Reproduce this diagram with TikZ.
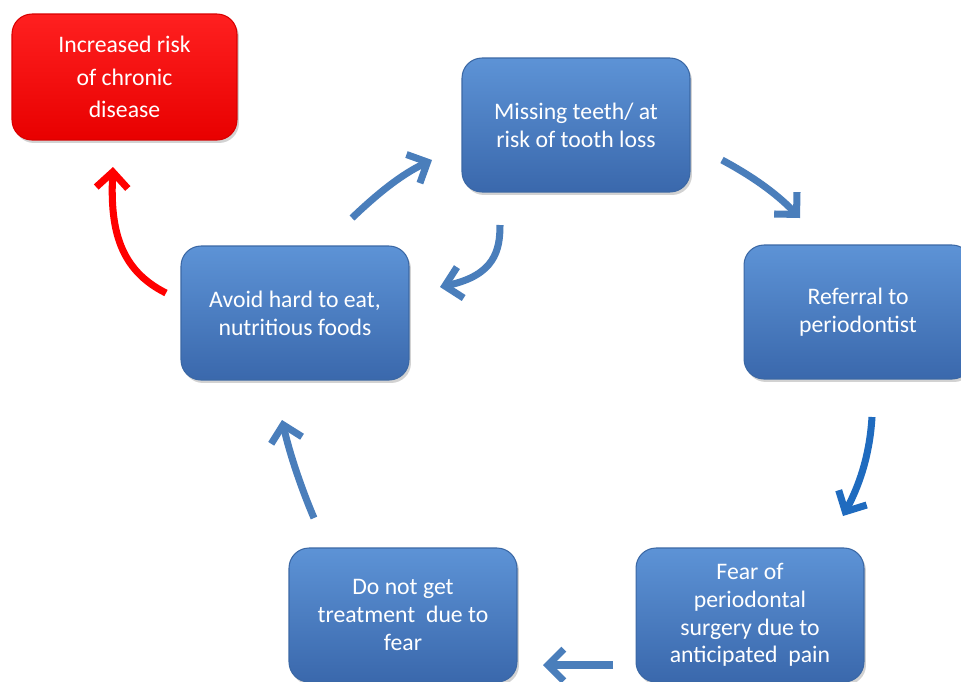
\documentclass[tikz,border=0pt]{standalone}
\usepackage{fontspec}
\setmainfont{Carlito}
\usetikzlibrary{arrows.meta,shadows}
\definecolor{boxtop}{HTML}{5D93D6}
\definecolor{boxbot}{HTML}{3A68AC}
\definecolor{boxedge}{HTML}{3B68A5}
\definecolor{arrowblue}{HTML}{4A7EBB}
\definecolor{arrowdark}{HTML}{1F6BBF}
\definecolor{redtop}{HTML}{FF2020}
\definecolor{redbot}{HTML}{E80000}
\tikzset{
  bluebox/.style={rectangle, rounded corners=0.4cm, minimum width=4.56cm, minimum height=2.68cm,
    top color=boxtop, bottom color=boxbot, draw=boxedge, line width=0.6pt,
    text=white, align=center, inner sep=0pt,
    font=\fontsize{13.5}{15.8}\selectfont,
    drop shadow={shadow xshift=0.04cm, shadow yshift=-0.06cm, opacity=0.35}},
  redbox/.style={bluebox, top color=redtop, bottom color=redbot, draw=red!85!black,
    minimum width=4.5cm, minimum height=2.52cm, font=\fontsize{13.5}{18.5}\selectfont},
  flow/.style={draw=arrowblue, line width=4pt, line cap=butt,
    -{Straight Barb[length=9pt,width=18pt,line width=4pt]}},
  flowdark/.style={flow, draw=arrowdark},
  flowred/.style={flow, draw=red}
}
\begin{document}
\begin{tikzpicture}[x=0.02cm,y=-0.02cm]
\clip (0,0) rectangle (961,681);
\fill[white] (0,0) rectangle (961,681);
\node[redbox] (risk) at (124.5,77) {Increased risk\\of chronic\\disease};
\node[bluebox] (miss) at (576,125) {Missing teeth/ at\\risk of tooth loss};
\node[bluebox] (ref) at (858,312) {Referral to\\periodontist};
\node[bluebox] (avoid) at (295,313) {Avoid hard to eat,\\nutritious foods};
\node[bluebox] (donot) at (403,615) {Do not get\\treatment\ \ due to\\fear};
\node[bluebox] (fear) at (750,615) {Fear of\\periodontal\\surgery due to\\anticipated\ \ pain};

% arrow end points
\coordinate (a1s) at (352,218); \coordinate (a1e) at (432,160);
\coordinate (a2s) at (500,225); \coordinate (a2e) at (440,287);
\coordinate (a3s) at (722,160); \coordinate (a3e) at (800,218);
\coordinate (a4s) at (872,417); \coordinate (a4e) at (843,516);
\coordinate (a5s) at (613,665); \coordinate (a5e) at (543,665);
\coordinate (a6s) at (314,518); \coordinate (a6e) at (282,420);
\coordinate (a7s) at (166,293); \coordinate (a7e) at (113,167);

\draw[flow] (a1s) .. controls (375,196) and (400,175) .. (a1e);
\draw[flow] (a2s) .. controls (500,250) and (495,275) .. (a2e);
\draw[flow] (a3s) .. controls (750,175) and (775,192) .. (a3e);
\draw[flowdark] (a4s) .. controls (870,450) and (862,480) .. (a4e);
\draw[flow] (a5s) -- (a5e);
\draw[flow] (a6s) .. controls (302,490) and (290,455) .. (a6e);
\draw[flowred] (a7s) .. controls (120,270) and (110,230) .. (a7e);
\end{tikzpicture}
\end{document}
